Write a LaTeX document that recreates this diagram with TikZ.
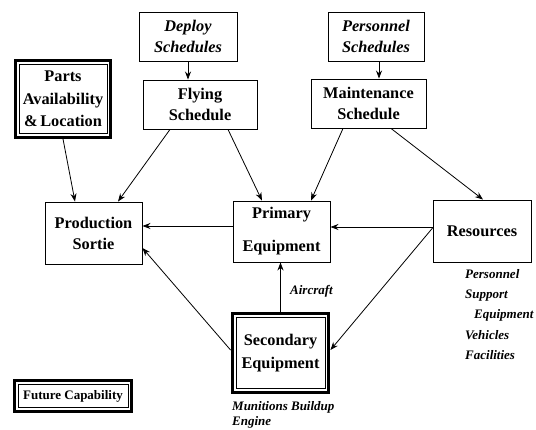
\documentclass[tikz,border=0pt]{standalone}
\usepackage{fontspec}
\setmainfont{Liberation Serif}
\usetikzlibrary{arrows.meta}
\tikzset{
  box/.style={draw, line width=0.9pt, rectangle, align=center, inner sep=1pt,
    font=\fontsize{16.3}{21}\selectfont\bfseries},
  ibox/.style={box, font=\fontsize{16.3}{21}\selectfont\bfseries\itshape},
  thickframe/.style={draw, line width=3pt},
  innerframe/.style={draw, line width=0.9pt},
  arr/.style={-{Stealth[length=8pt,width=6pt]}, line width=0.8pt},
  lbl/.style={font=\fontsize{13}{20.3}\selectfont\bfseries\itshape, inner sep=0pt, align=left},
}
\begin{document}
\begin{tikzpicture}[x=1pt,y=-1pt]
\useasboundingbox (0,0) rectangle (536,430);
% nodes
\node[ibox, minimum width=98pt, minimum height=49pt] (deploy) at (188,36.5) {Deploy\\Schedules};
\node[box, minimum width=114pt, minimum height=49pt] (flying) at (200,104.5) {Flying\\Schedule};
\node[box, draw=none, minimum width=98pt, minimum height=79pt, font=\fontsize{16.3}{22.5}\selectfont\bfseries] (parts) at (63,99) {Parts\\Availability\\\&\,Location};
\node[ibox, minimum width=96pt, minimum height=49pt] (personnel) at (376,36.5) {Personnel\\Schedules};
\node[box, minimum width=115pt, minimum height=49pt] (maint) at (368.5,103.5) {Maintenance\\Schedule};
\node[box, minimum width=97pt, minimum height=62pt] (prod) at (93.5,233) {Production\\Sortie};
\node[box, minimum width=97pt, minimum height=61pt] (primary) at (281.5,231.5) {Primary\\[12pt]Equipment};
\node[box, minimum width=98pt, minimum height=62pt] (res) at (482,231) {Resources};
\node[box, draw=none, minimum width=99pt, minimum height=82pt] (second) at (280.5,353) {Secondary\\[2pt]Equipment};
\node[box, draw=none, font=\fontsize{13}{16}\selectfont\bfseries, minimum width=120pt, minimum height=34pt] (future) at (73,396) {Future Capability};
% double frames
\foreach \n in {parts, second, future} {
  \draw[thickframe] ([xshift=1.5pt,yshift=-1.5pt]\n.north west) rectangle ([xshift=-1.5pt,yshift=1.5pt]\n.south east);
  \draw[innerframe] ([xshift=5.5pt,yshift=-5.5pt]\n.north west) rectangle ([xshift=-5.5pt,yshift=5.5pt]\n.south east);
}
% labels
\node[lbl, anchor=west] (aircraft) at (290,291) {Aircraft};
\node[lbl, anchor=north west, font=\fontsize{13}{15}\selectfont\bfseries\itshape] (munitions) at (232,401) {Munitions Buildup\\Engine};
\node[lbl, anchor=north west] (reslist) at (465,269) {Personnel\\Support\\\hspace{9pt}Equipment\\Vehicles\\Facilities};
% connectors
\draw[arr] (deploy.south) -- (deploy.south |- flying.north);
\draw[arr] ([xshift=3pt]personnel.south) -- ([xshift=3pt]personnel.south |- maint.north);
\draw[arr] (parts.south) -- ([xshift=-18.5pt]prod.north);
\draw[arr] ([xshift=-30pt]flying.south) -- ([xshift=24.5pt]prod.north);
\draw[arr] ([xshift=28pt]flying.south) -- ([xshift=-19.5pt]primary.north);
\draw[arr] ([xshift=-25.5pt]maint.south) -- ([xshift=29.5pt]primary.north);
\draw[arr] ([xshift=22.5pt]maint.south) -- ([xshift=1pt]res.north);
\draw[arr] ([yshift=5.5pt]primary.west) -- ([yshift=5.5pt]primary.west -| prod.east);
\draw[arr] ([yshift=4pt]res.west) -- ([yshift=4pt]res.west -| primary.east);
\draw[arr] ([yshift=3pt]res.west) -- ([yshift=3pt]second.east);
\draw[arr] (second.north) -- (second.north |- primary.south);
\draw[arr] ([yshift=3pt]second.west) -- ([yshift=-15pt]prod.east);
\end{tikzpicture}
\end{document}
